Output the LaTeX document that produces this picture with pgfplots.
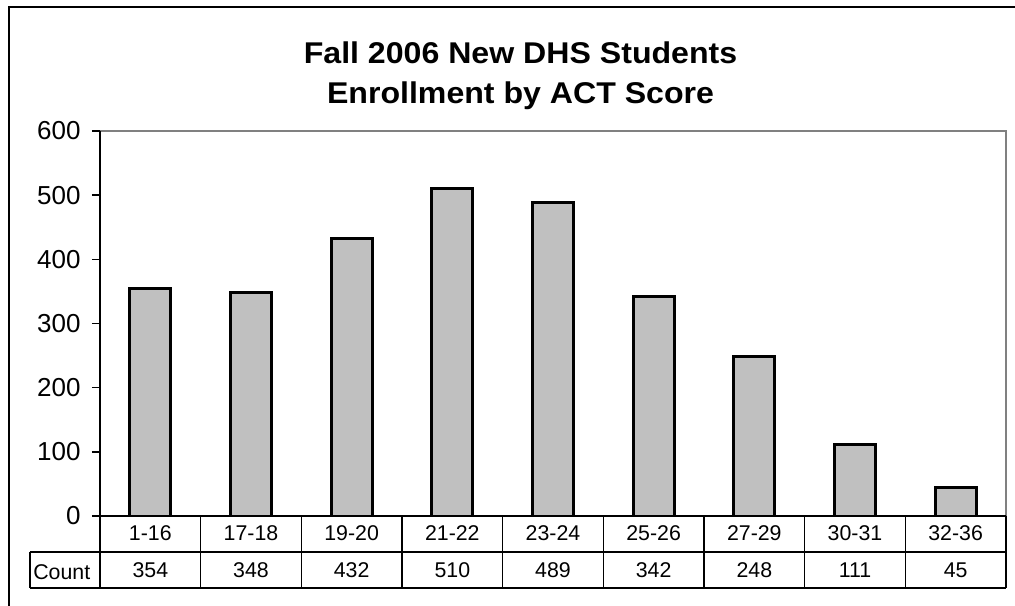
\documentclass[border=0pt]{standalone}
\usepackage{fontspec}
\setmainfont{Liberation Sans}
\usepackage{graphicx}
\usepackage{pgfplots}
\usepackage{pgfplotstable}
\pgfplotsset{compat=1.18}

\definecolor{barfill}{HTML}{C0C0C0}
\definecolor{plotframe}{HTML}{808080}

% ACT score bands and head counts
\pgfplotstableread{
x label count
0 1-16 354
1 17-18 348
2 19-20 432
3 21-22 510
4 23-24 489
5 25-26 342
6 27-29 248
7 30-31 111
8 32-36 45
}\actdata

\newcommand{\tablefont}{\fontsize{16}{19}\selectfont}
\newcommand{\titletext}[1]{\scalebox{1.07}[1]{#1}}

\begin{document}
\begin{tikzpicture}
\useasboundingbox (0,0) rectangle (761.25pt,454.5pt);
% outer chart frame (only left and top edges are visible)
\draw[black, line width=1.2pt] (6.75pt,0) -- (6.75pt,449.25pt) -- (761.25pt,449.25pt);

\node[anchor=base, inner sep=0pt, font=\fontsize{22.5}{27}\selectfont\bfseries] at (390.4pt,406.5pt) {\titletext{Fall 2006 New DHS Students}};
\node[anchor=base, inner sep=0pt, font=\fontsize{22.5}{27}\selectfont\bfseries] at (390.4pt,376.5pt) {\titletext{Enrollment by ACT Score}};

\begin{axis}[
    at={(75pt,67.5pt)}, anchor=south west,
    scale only axis, width=679.5pt, height=288.75pt,
    xmin=-0.5, xmax=8.5, ymin=0, ymax=600,
    clip=false,
    axis line style={draw=none},
    xtick={0,...,8},
    xticklabels from table={\actdata}{label},
    xtick style={draw=none},
    xticklabel style={anchor=base, yshift=-12.3pt, font=\tablefont},
    ytick={0,100,...,600},
    ytick pos=left,
    tick align=outside,
    major tick length=6pt,
    ytick style={black, line width=1.1pt},
    yticklabel style={font=\fontsize{19.5}{23}\selectfont, xshift=-5pt},
    /pgf/number format/assume math mode=true,
]
\addplot[ybar, bar width=30.75pt, fill=barfill, draw=black, line width=2.1pt]
    table[x=x, y=count] {\actdata};

% count row of the data table
\addplot[draw=none, nodes near coords, point meta=explicit,
    every node near coord/.append style={anchor=base, yshift=-46.5pt, font=\tablefont}]
    table[x=x, y expr=0, meta=count] {\actdata};

% plot area frame
\draw[plotframe, line width=1.9pt] (rel axis cs:0,1) -- (rel axis cs:1,1) -- (rel axis cs:1,0);
\draw[black, line width=1.1pt] (rel axis cs:0,0) -- (rel axis cs:0,1);

% data table grid
\draw[black, line width=0.8pt] (rel axis cs:0,0) -- (rel axis cs:1,0);
\draw[black, line width=0.8pt] ([xshift=-52.5pt,yshift=-27pt]rel axis cs:0,0) -- ([yshift=-27pt]rel axis cs:1,0);
\draw[black, line width=0.8pt] ([xshift=-52.5pt,yshift=-54pt]rel axis cs:0,0) -- ([yshift=-54pt]rel axis cs:1,0);
\draw[black, line width=0.8pt] ([xshift=-52.5pt,yshift=-27pt]rel axis cs:0,0) -- ([xshift=-52.5pt,yshift=-54pt]rel axis cs:0,0);
\pgfplotsinvokeforeach{-0.5,0.5,...,8.5}{
    \draw[black, line width=0.8pt] (axis cs:#1,0) -- ([yshift=-54pt]axis cs:#1,0);
}
\node[anchor=base west, inner sep=0pt, font=\tablefont] at ([xshift=-50.25pt,yshift=-48pt]rel axis cs:0,0) {Count};
\end{axis}
\end{tikzpicture}
\end{document}
